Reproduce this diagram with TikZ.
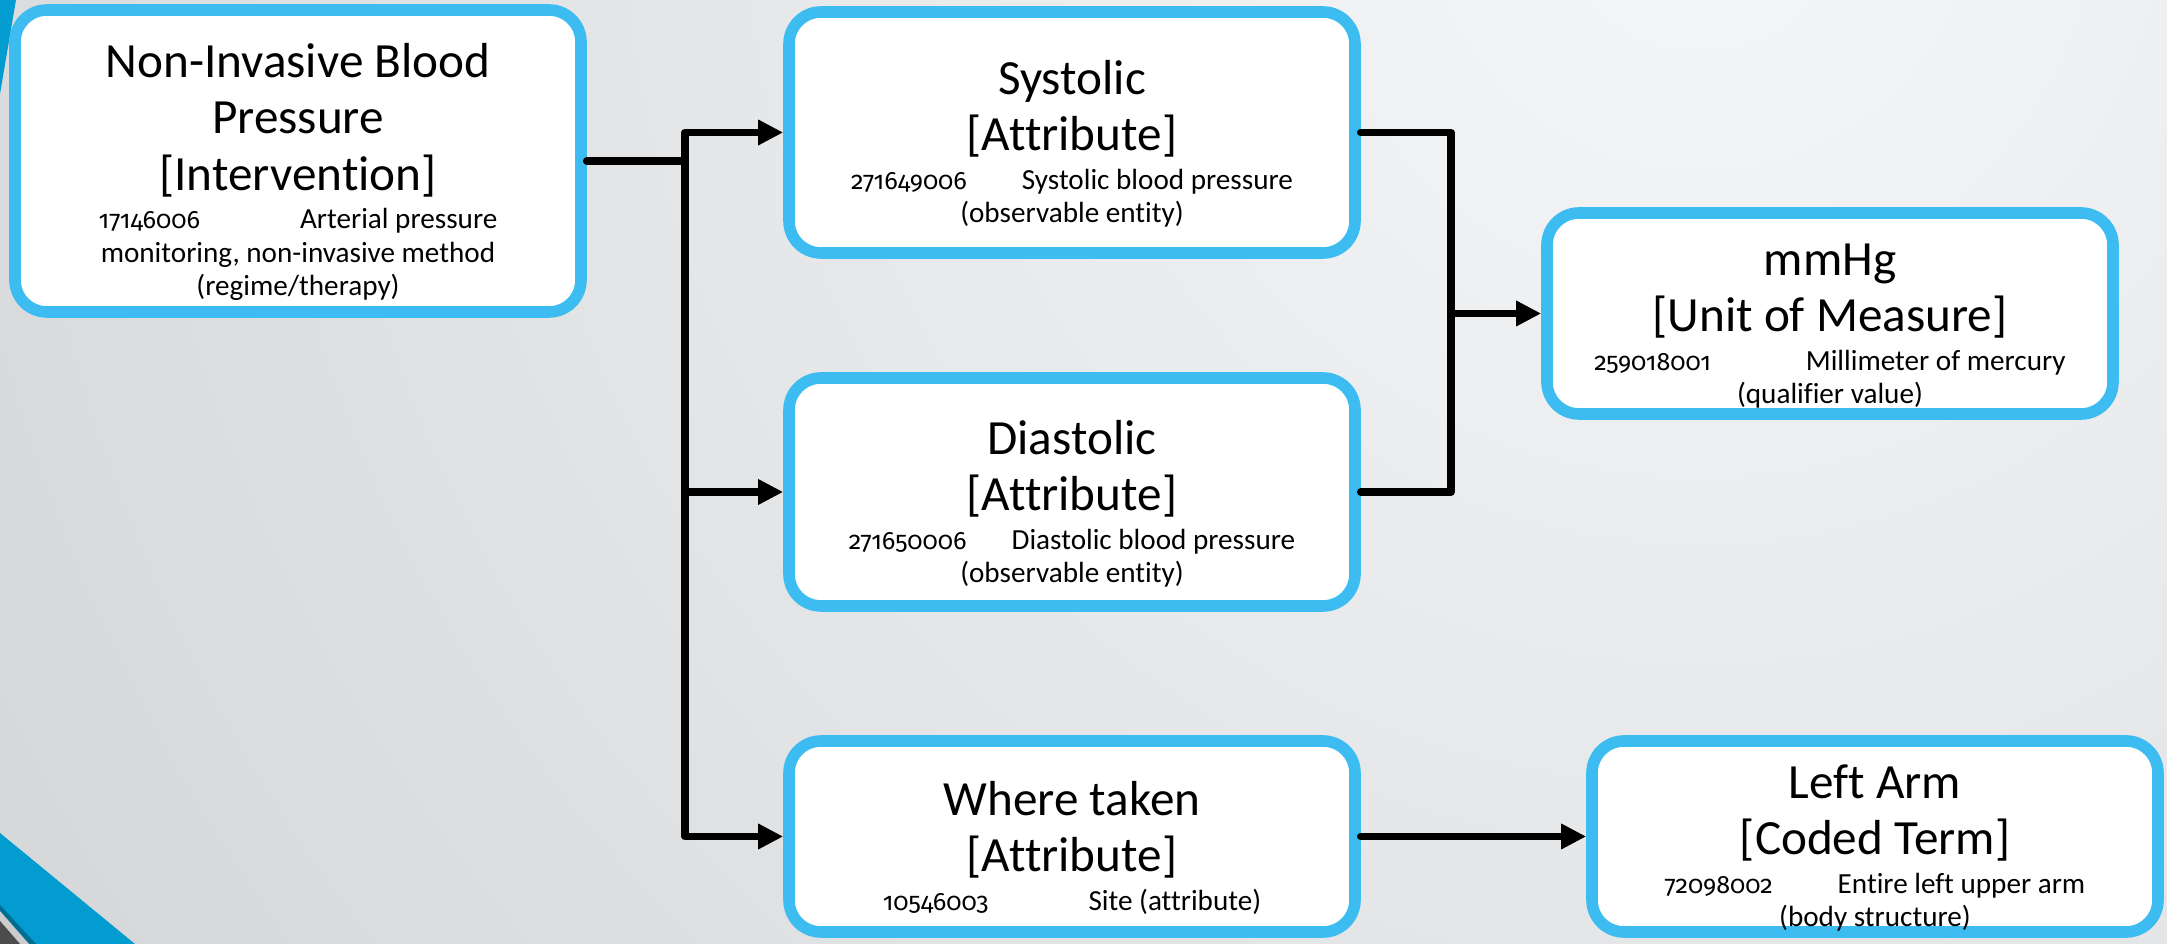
\documentclass[tikz,border=0pt]{standalone}
\usepackage{fontspec}
\setmainfont{Carlito}[Ligatures=NoCommon]
\newfontfamily\codefont{Fira Sans}[Numbers=OldStyle, Scale=0.86]
\usetikzlibrary{arrows.meta}

\definecolor{boxblue}{HTML}{3CBCF0}
\definecolor{bandblue}{HTML}{039CD1}
\definecolor{bglight}{HTML}{F6F7F8}
\definecolor{bgdark}{HTML}{B4B6B8}
% #1 shift down, #2 title, #3 code, #4 gap, #5 description
\newcommand{\term}[5][0pt]{\par\vspace*{#1}{\fontsize{14}{16}\selectfont #2\par}\vspace{1.5pt}%
  {\fontsize{8.3}{9.5}\selectfont {\codefont #3}\hspace{#4}#5\par}\vspace*{-#1}}

\begin{document}
\begin{tikzpicture}[
  termbox/.style={draw=boxblue, line width=3.3pt, fill=white, rounded corners=0.32cm,
    minimum width=5.66cm, text width=5.4cm, align=flush center, inner sep=0pt},
  link/.style={line width=2.2pt, line join=round, line cap=round},
  tip/.style={-{Triangle[length=0.25cm,width=0.24cm]}}
]
\useasboundingbox (0,0) rectangle (21.67,9.44);
% background
\begin{scope}
\clip (0,0) rectangle (21.67,9.44);
\shade[inner color=bglight, outer color=bgdark] (17,10.5) circle (40);
\fill[bandblue] (0,9.44) -- (0.16,9.44) -- (0,8.5) -- cycle;
\fill[bandblue] (0,1.11) -- (1.35,0) -- (0,0) -- cycle;
\fill[bandblue!70!black] (0,0.39) -- (0.36,0) -- (0,0) -- cycle;
\fill[gray!40] (0,0.33) -- (0.29,0) -- (0,0) -- cycle;
\fill[black!70] (0,0.23) -- (0.2,0) -- (0,0) -- cycle;
\end{scope}

% terms
\node[termbox, minimum height=3.02cm] (nibp) at (2.98,7.83)
  {\term{Non-Invasive Blood\\Pressure\\{[Intervention]}}{17146006}{1.0cm}{Arterial pressure\\monitoring, non-invasive method\\(regime/therapy)}};
\node[termbox, minimum height=2.41cm] (sys) at (10.72,8.115)
  {\term{Systolic\\{[Attribute]}}{271649006}{0.55cm}{Systolic blood pressure\\(observable entity)}};
\node[termbox, minimum height=2.28cm] (dia) at (10.72,4.52)
  {\term[0.02cm]{Diastolic\\{[Attribute]}}{271650006}{0.45cm}{Diastolic blood pressure\\(observable entity)}};
\node[termbox, minimum height=1.91cm] (wt) at (10.72,1.075)
  {\term{Where taken\\{[Attribute]}}{10546003}{1.0cm}{Site (attribute)}};
\node[termbox, minimum height=2.01cm] (mmhg) at (18.30,6.305)
  {\term{mmHg\\{[Unit of Measure]}}{259018001}{0.95cm}{Millimeter of mercury\\(qualifier value)}};
\node[termbox, minimum height=1.91cm] (arm) at (18.75,1.075)
  {\term{Left Arm\\{[Coded Term]}}{72098002}{0.65cm}{Entire left upper arm\\(body structure)}};

% connectors
\coordinate (split) at (6.85,7.83);
\coordinate (merge) at (14.51,6.305);
\draw[link] (nibp.east) -- (split);
\draw[link,tip] (split) |- (sys.west);
\draw[link,tip] (split) |- (dia.west);
\draw[link,tip] (split) |- (wt.west);
\draw[link] (sys.east) -| (merge);
\draw[link] (dia.east) -| (merge);
\draw[link,tip] (merge) -- (mmhg.west);
\draw[link,tip] (wt.east) -- (arm.west);
\end{tikzpicture}
\end{document}
